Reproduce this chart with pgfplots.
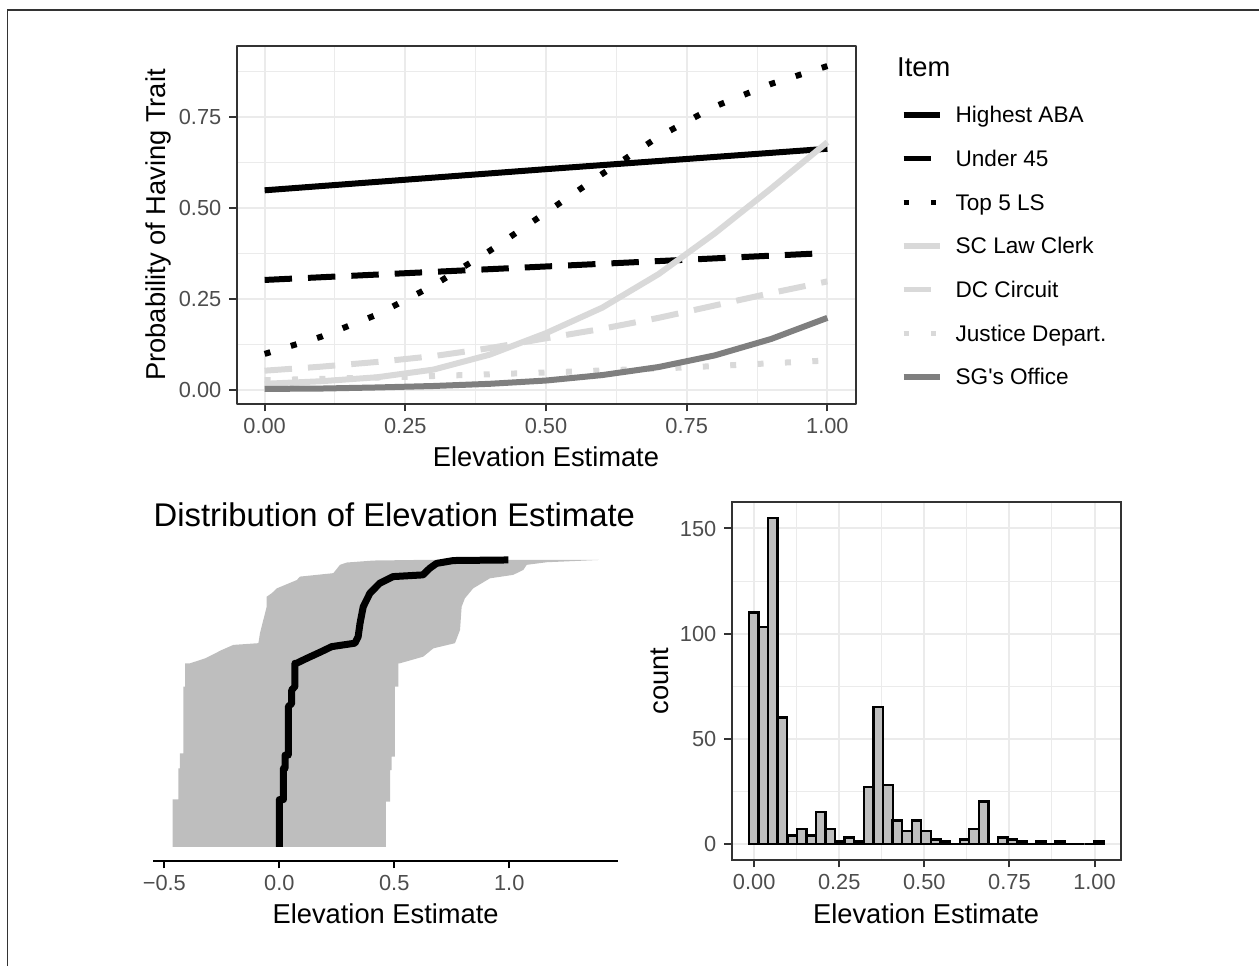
\documentclass[border=0pt]{standalone}
\usepackage{fontspec}
\setmainfont{Liberation Sans}
\usepackage{pgfplots}
\pgfplotsset{compat=1.18}
\definecolor{gridc}{HTML}{EBEBEB}
\definecolor{framec}{HTML}{333333}
\definecolor{ticklab}{HTML}{4D4D4D}
\definecolor{lgrey}{HTML}{D9D9D9}
\definecolor{mgrey}{HTML}{7F7F7F}
\definecolor{fillgrey}{HTML}{BEBEBE}
\newcommand{\tickfont}{\fontsize{10.9}{13}\selectfont}
\newcommand{\legfont}{\fontsize{11.3}{13}\selectfont}
\newcommand{\labfont}{\fontsize{13.65}{16}\selectfont}
\pgfplotsset{
  ggbase/.style={
    scale only axis,
    tick align=outside,
    major tick length=3.7pt, minor tick length=0pt,
    tick label style={font=\tickfont, text=ticklab, inner sep=0pt},
    /pgf/number format/assume math mode=true,
    xticklabel style={anchor=base, inner sep=0pt, yshift=-10.95pt},
    yticklabel style={anchor=base east, inner sep=0pt, xshift=-3.7pt, yshift=-3.9pt},
  },
  ggbw/.style={
    ggbase,
    axis line style={framec, line width=1pt},
    tick style={framec, line width=1pt},
    tick pos=left,
    xmajorgrids, ymajorgrids, xminorgrids, yminorgrids,
    major grid style={gridc, line width=1pt},
    minor grid style={gridc, line width=0.5pt},
  },
}
\begin{document}
\begin{tikzpicture}
\path[use as bounding box] (0pt,0pt) rectangle (629.5pt,483pt);
\draw[framec, line width=0.8pt] (3.75pt,0pt) -- (3.75pt,478pt) -- (629.5pt,478pt);

% ---------------- top panel ----------------
\begin{axis}[ggbw,
  at={(118.25pt,281pt)}, anchor=south west,
  width=309.5pt, height=179pt,
  xmin=-0.05, xmax=1.05, ymin=-0.0384, ymax=0.944,
  xtick={0,0.25,0.5,0.75,1}, xticklabels={0.00,0.25,0.50,0.75,1.00},
  ytick={0,0.25,0.5,0.75}, yticklabels={0.00,0.25,0.50,0.75},
  minor xtick={0.125,0.375,0.625,0.875},
  minor ytick={0.125,0.375,0.625,0.875},
  xlabel={Elevation Estimate}, ylabel={Probability of Having Trait},
  every axis x label/.style={at={(axis description cs:0.5,-0.1751)}, anchor=base, font=\labfont, inner sep=0pt},
  every axis y label/.style={at={(axis description cs:-0.1144,0.5)}, rotate=90, anchor=base, font=\labfont, inner sep=0pt},
  legend style={at={(axis description cs:1.0735,0.829)}, anchor=north west,
    draw=none, fill=none, inner sep=0pt, outer sep=0pt, row sep=14.03pt,
    font=\legfont,
    nodes={inner sep=0pt, outer sep=0pt, text height=7.8pt, text depth=0pt}},
  legend cell align=left,
  legend image code/.code={\path[draw=none, fill=none] (0pt,-3.9pt) rectangle (26pt,3.9pt); \draw[#1] (0pt,0pt) -- (18pt,0pt);},
  line join=round,
]
\addplot[black, line width=3pt, forget plot] coordinates {(0,0.548) (0.5,0.606) (1,0.662)};
\addplot[black, line width=3pt, dash pattern=on 13.7pt off 8pt, forget plot] coordinates {(0,0.302) (0.5,0.339) (1,0.376)};
\addplot[black, line width=3pt, dash pattern=on 3pt off 10.7pt, forget plot] coordinates {
(0,0.099) (0.1,0.146) (0.2,0.207) (0.3,0.287) (0.4,0.382) (0.5,0.487) (0.6,0.593) (0.7,0.695) (0.8,0.778) (0.9,0.840) (1.0,0.889)};
\addplot[lgrey, line width=3pt, forget plot] coordinates {
(0,0.017) (0.1,0.024) (0.2,0.035) (0.3,0.056) (0.4,0.097) (0.5,0.156) (0.6,0.226) (0.7,0.318) (0.8,0.430) (0.9,0.553) (1.0,0.680)};
\addplot[lgrey, line width=3pt, dash pattern=on 13.7pt off 8pt, forget plot] coordinates {
(0,0.053) (0.1,0.064) (0.2,0.077) (0.3,0.093) (0.4,0.115) (0.5,0.142) (0.6,0.168) (0.7,0.198) (0.8,0.232) (0.9,0.266) (1.0,0.298)};
\addplot[lgrey, line width=3pt, dash pattern=on 3pt off 10.7pt, forget plot] coordinates {
(0,0.027) (0.25,0.036) (0.5,0.048) (0.75,0.062) (1.0,0.081)};
\addplot[mgrey, line width=3pt, forget plot] coordinates {
(0,0.003) (0.1,0.004) (0.2,0.007) (0.3,0.011) (0.4,0.017) (0.5,0.026) (0.6,0.041) (0.7,0.063) (0.8,0.095) (0.9,0.140) (1.0,0.198)};

\addlegendimage{black, line width=2.6pt}
\addlegendentry{Highest ABA}
\addlegendimage{black, line width=2.6pt, dash pattern=on 13.7pt off 8pt}
\addlegendentry{Under 45}
\addlegendimage{black, line width=2.6pt, dash pattern=on 2.6pt off 11.1pt}
\addlegendentry{Top 5 LS}
\addlegendimage{lgrey, line width=2.6pt}
\addlegendentry{SC Law Clerk}
\addlegendimage{lgrey, line width=2.6pt, dash pattern=on 13.7pt off 8pt}
\addlegendentry{DC Circuit}
\addlegendimage{lgrey, line width=2.6pt, dash pattern=on 2.6pt off 11.1pt}
\addlegendentry{Justice Depart.}
\addlegendimage{mgrey, line width=2.6pt}
\addlegendentry{SG\textquotesingle s Office}
\end{axis}

% ---------------- bottom-left panel ----------------
\begin{axis}[ggbase,
  at={(76.65pt,52.5pt)}, anchor=south west,
  width=232.35pt, height=157.7pt,
  xmin=-0.548, xmax=1.473, ymin=-0.049, ymax=1.05,
  axis x line=bottom, axis y line=none,
  axis line style={-, black, line width=1pt},
  tick style={black, line width=1pt},
  tick align=outside,
  xtick={-0.5,0,0.5,1}, xticklabels={−0.5,0.0,0.5,1.0}, ytick=\empty,
  xlabel={Elevation Estimate},
  every axis x label/.style={at={(axis description cs:0.5,-0.1976)}, anchor=base, font=\labfont, inner sep=0pt},
  title={Distribution of Elevation Estimate},
  title style={at={(axis description cs:0,1.059)}, anchor=base west, inner sep=0pt, yshift=-6pt, font=\fontsize{16.4}{19}\selectfont},
  line join=round,
]
\addplot[fill=fillgrey, draw=none] coordinates {
(-0.464,0) (-0.464,0.166) (-0.439,0.166) (-0.439,0.274) (-0.432,0.274) (-0.432,0.326)
(-0.417,0.326) (-0.417,0.559) (-0.41,0.559) (-0.41,0.640) (-0.388,0.640)
(-0.323,0.657) (-0.251,0.686) (-0.2,0.704) (-0.091,0.710) (-0.084,0.745)
(-0.055,0.837) (-0.055,0.872) (-0.033,0.884) (-0.011,0.901) (0.076,0.930)
(0.09,0.942) (0.235,0.954) (0.264,0.983) (0.293,0.991) (0.409,0.998) (0.6,1.0)
(1.39,1.0) (1.163,0.992) (1.076,0.983) (1.061,0.965) (1.017,0.948) (0.916,0.936)
(0.843,0.901) (0.807,0.866) (0.793,0.837) (0.786,0.756) (0.764,0.710) (0.670,0.692)
(0.626,0.663) (0.525,0.640) (0.518,0.640) (0.518,0.559) (0.503,0.559) (0.503,0.315)
(0.489,0.315) (0.489,0.268) (0.482,0.268) (0.482,0.158) (0.463,0.158) (0.463,0)
} -- cycle;
\addplot[black, line width=3.5pt] coordinates {
(0,0) (0,0.165) (0.018,0.165) (0.018,0.274) (0.025,0.274) (0.025,0.32) (0.039,0.32)
(0.039,0.489) (0.054,0.50) (0.054,0.547) (0.068,0.559) (0.068,0.640) (0.075,0.640)
(0.119,0.657) (0.184,0.681) (0.228,0.698) (0.329,0.710) (0.343,0.733) (0.351,0.779)
(0.365,0.837) (0.394,0.884) (0.437,0.919) (0.495,0.942) (0.625,0.948) (0.654,0.971)
(0.684,0.988) (0.757,0.998) (0.996,1.0)};
\end{axis}

% ---------------- histogram ----------------
\begin{axis}[ggbw,
  at={(365.75pt,53pt)}, anchor=south west,
  width=194.6pt, height=179.15pt,
  xmin=-0.0666, xmax=1.077, ymin=-7.75, ymax=162.75,
  xtick={0,0.25,0.5,0.75,1}, xticklabels={0.00,0.25,0.50,0.75,1.00},
  ytick={0,50,100,150}, yticklabels={0,50,100,150},
  minor xtick={0.125,0.375,0.625,0.875},
  minor ytick={25,75,125},
  xlabel={Elevation Estimate}, ylabel={count},
  every axis x label/.style={at={(axis description cs:0.5,-0.1767)}, anchor=base, font=\labfont, inner sep=0pt},
  every axis y label/.style={at={(axis description cs:-0.1624,0.5)}, rotate=90, anchor=base, font=\labfont, inner sep=0pt},
]
\addplot[ybar, bar width=0.02814, bar shift=0pt, fill=fillgrey, draw=black, line width=1.2pt] coordinates {
(-0.001,110) (0.027,103) (0.055,155) (0.083,60) (0.112,4) (0.140,7) (0.168,4) (0.196,15)
(0.224,7) (0.252,1) (0.280,3) (0.308,1) (0.337,27) (0.365,65) (0.393,28) (0.421,11)
(0.449,6) (0.477,11) (0.505,6) (0.534,2) (0.562,1) (0.590,0) (0.618,2) (0.646,7)
(0.674,20) (0.702,0) (0.730,3) (0.759,2) (0.787,1) (0.815,0) (0.843,1) (0.871,0)
(0.899,1) (0.927,0) (0.955,0) (0.984,0) (1.012,1)};
\end{axis}

\node[anchor=base west, font=\labfont, inner sep=0pt] at (448.4pt,444.8pt) {Item};
\end{tikzpicture}
\end{document}
